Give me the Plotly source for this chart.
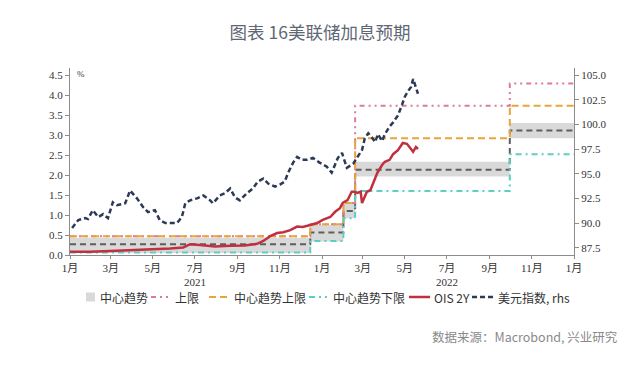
import plotly.graph_objects as go

# ---------------- data ----------------
step_dates = ["2021-01-01", "2021-12-15", "2022-02-01", "2022-02-18", "2022-09-30", "2023-01-01"]
band_low   = [0.05, 0.34, 0.92, 1.96, 2.92, 2.92]
band_high  = [0.43, 0.75, 1.28, 2.33, 3.30, 3.30]
center     = [0.27, 0.56, 1.10, 2.13, 3.11, 3.11]
upper      = [0.47, 0.77, 1.30, 3.73, 4.29, 4.29]
ct_upper   = [0.47, 0.77, 1.30, 2.92, 3.73, 3.73]
ct_lower   = [0.06, 0.35, 0.92, 1.60, 2.52, 2.52]

ois_dates = ["2021-01-01", "2021-01-30", "2021-02-28", "2021-03-29", "2021-04-27", "2021-05-26",
             "2021-06-14", "2021-06-24", "2021-07-08", "2021-07-30", "2021-08-21", "2021-09-11",
             "2021-09-29", "2021-10-08", "2021-10-18", "2021-10-28", "2021-11-06", "2021-11-16",
             "2021-11-26", "2021-12-04", "2021-12-15", "2021-12-25", "2022-01-02", "2022-01-13",
             "2022-01-20", "2022-01-27", "2022-01-31", "2022-02-07", "2022-02-13", "2022-02-17",
             "2022-02-21", "2022-02-26", "2022-02-28", "2022-03-07", "2022-03-12", "2022-03-16",
             "2022-03-22", "2022-03-29", "2022-04-02", "2022-04-09", "2022-04-14", "2022-04-21",
             "2022-04-28", "2022-05-04", "2022-05-08", "2022-05-13", "2022-05-17", "2022-05-20"]
ois_vals = [0.08, 0.08, 0.10, 0.12, 0.13, 0.16,
            0.19, 0.27, 0.25, 0.21, 0.23, 0.24,
            0.28, 0.35, 0.47, 0.55, 0.57, 0.62,
            0.71, 0.70, 0.75, 0.80, 0.88, 0.95,
            1.08, 1.17, 1.30, 1.37, 1.58, 1.58,
            1.55, 1.58, 1.30, 1.58, 1.62, 1.80,
            2.05, 2.25, 2.33, 2.38, 2.52, 2.62,
            2.80, 2.78, 2.70, 2.58, 2.70, 2.65]

dxy_dates = ["2021-01-04", "2021-01-13", "2021-01-23", "2021-01-27", "2021-02-03", "2021-02-11",
             "2021-02-18", "2021-02-25", "2021-03-04", "2021-03-10", "2021-03-16", "2021-03-22",
             "2021-03-29", "2021-04-08", "2021-04-17", "2021-04-24", "2021-05-04", "2021-05-11",
             "2021-05-19", "2021-05-29", "2021-06-05", "2021-06-12", "2021-06-17", "2021-06-24",
             "2021-07-04", "2021-07-13", "2021-07-23", "2021-07-27", "2021-08-06", "2021-08-13",
             "2021-08-21", "2021-08-28", "2021-09-04", "2021-09-14", "2021-09-23", "2021-09-30",
             "2021-10-08", "2021-10-15", "2021-10-25", "2021-11-01", "2021-11-08", "2021-11-13",
             "2021-11-20", "2021-11-26", "2021-12-03", "2021-12-10", "2021-12-19", "2021-12-29",
             "2022-01-08", "2022-01-15", "2022-01-24", "2022-01-30", "2022-02-06", "2022-02-15",
             "2022-02-22", "2022-02-28", "2022-03-04", "2022-03-09", "2022-03-14", "2022-03-19",
             "2022-03-23", "2022-03-29", "2022-04-02", "2022-04-09", "2022-04-14", "2022-04-21",
             "2022-04-27", "2022-05-01", "2022-05-06", "2022-05-10", "2022-05-13", "2022-05-16",
             "2022-05-20"]
dxy_vals = [89.5, 90.3, 90.5, 90.4, 91.3, 90.6,
            90.9, 90.5, 92.1, 91.8, 91.9, 92.0,
            93.3, 92.5, 91.6, 91.1, 91.3, 90.3,
            90.0, 90.0, 90.0, 90.6, 92.0, 92.3,
            92.5, 92.8, 92.3, 92.0, 92.8, 93.0,
            93.5, 92.6, 92.3, 93.0, 93.5, 94.2,
            94.5, 94.0, 93.7, 93.9, 94.2, 95.1,
            96.1, 96.7, 96.4, 96.4, 96.6, 96.1,
            95.7, 95.1, 96.6, 97.1, 95.6, 96.0,
            96.7, 97.4, 98.6, 99.1, 98.7, 98.2,
            99.0, 98.3, 99.0, 99.8, 100.2, 100.9,
            102.0, 102.8, 103.4, 103.8, 104.6, 103.9,
            103.1]

tick_vals = ["2021-01-01", "2021-03-01", "2021-05-01", "2021-07-01", "2021-09-01", "2021-11-01",
             "2022-01-01", "2022-03-01", "2022-05-01", "2022-07-01", "2022-09-01", "2022-11-01",
             "2023-01-01"]
tick_text = ["1月", "3月", "5月", "7月", "9月", "11月", "1月", "3月", "5月", "7月", "9月", "11月", "1月"]
year_labels = ["2021", "2022"]
year_pos = ["2021-07-01", "2022-07-01"]

legend_names = ["中心趋势", "上限", "中心趋势上限", "中心趋势下限", "OIS 2Y", "美元指数, rhs"]

# ---------------- figure ----------------
serif = "Liberation Serif, Noto Sans CJK SC, serif"
cjk = "Noto Sans CJK SC, sans-serif"

C_BAND = "#D9D9D9"
C_CENTER = "#5E5E5E"
C_PINK = "#DE7A98"
C_ORANGE = "#E7A53A"
C_CYAN = "#5CCFC4"
C_RED = "#C0303F"
C_NAVY = "#2D3A55"
D_PINK = "5px,4px,2px,4px,2px,4px"
D_ORANGE = "7px,4px"
D_CYAN = "6px,4px,2px,4px"
D_NAVY = "5px,3px"

fig = go.Figure()

fig.add_trace(go.Scatter(x=step_dates, y=band_low, mode="lines", line=dict(shape="hv", width=0),
                         showlegend=False, hoverinfo="skip"))
fig.add_trace(go.Scatter(x=step_dates, y=band_high, mode="lines", line=dict(shape="hv", width=0),
                         fill="tonexty", fillcolor=C_BAND, name=legend_names[0]))
fig.add_trace(go.Scatter(x=step_dates, y=center, mode="lines",
                         line=dict(shape="hv", width=2, color=C_CENTER, dash="6px,4px"),
                         showlegend=False))
fig.add_trace(go.Scatter(x=step_dates, y=upper, mode="lines", name=legend_names[1],
                         line=dict(shape="hv", width=2, color=C_PINK, dash=D_PINK)))
fig.add_trace(go.Scatter(x=step_dates, y=ct_upper, mode="lines", name=legend_names[2],
                         line=dict(shape="hv", width=2, color=C_ORANGE, dash=D_ORANGE)))
fig.add_trace(go.Scatter(x=step_dates, y=ct_lower, mode="lines", name=legend_names[3],
                         line=dict(shape="hv", width=2, color=C_CYAN, dash=D_CYAN)))
fig.add_trace(go.Scatter(x=ois_dates, y=ois_vals, mode="lines", name=legend_names[4],
                         line=dict(width=2.5, color=C_RED)))
fig.add_trace(go.Scatter(x=dxy_dates, y=dxy_vals, mode="lines", name=legend_names[5], yaxis="y2",
                         line=dict(width=2.5, color=C_NAVY, dash=D_NAVY)))

axis_common = dict(showline=True, linecolor="#8C8C8C", linewidth=1, ticks="outside",
                   ticklen=4, tickcolor="#8C8C8C", showgrid=False, zeroline=False,
                   automargin=False,
                   tickfont=dict(family=serif, size=11, color="#333333"))

# page offset of the figure inside the browser window (default body margin)
OFF = 8
W, H = 640 - OFF, 373 - OFF
L, T = 70 - OFF, 68 - OFF          # plot area left/top in window px: 70 / 68
R = W - (574 - OFF)                 # plot right at 574 in window px
B = H - (255 - OFF)                 # plot bottom at 255 in window px
PW, PH = W - L - R, H - T - B


def px(xpix):
    return (xpix - OFF - L) / PW


def py(ypix):
    return (H - B - (ypix - OFF)) / PH


fig.update_layout(
    width=W, height=H,
    margin=dict(l=L, r=R, t=T, b=B, autoexpand=False),
    paper_bgcolor="white", plot_bgcolor="white",
    showlegend=False,
    title=dict(text="图表 16美联储加息预期", x=0.5 - OFF / 2 / W, xanchor="center",
               y=1 - (33 - OFF) / H, yanchor="middle",
               font=dict(family=cjk, size=17.5, color="#5F6775")),
    xaxis=dict(type="date", range=["2021-01-01", "2023-01-01"], tickvals=tick_vals,
               ticktext=tick_text, **{**axis_common, "ticklen": 3}),
    yaxis=dict(range=[0, 4.675], tickvals=[0, 0.5, 1, 1.5, 2, 2.5, 3, 3.5, 4, 4.5],
               tickformat=".1f", **axis_common),
    yaxis2=dict(range=[86.76, 105.71], overlaying="y", side="right",
                tickvals=[87.5, 90, 92.5, 95, 97.5, 100, 102.5, 105], tickformat=".1f",
                **axis_common),
)

for lab, pos in zip(year_labels, year_pos):
    fig.add_annotation(x=pos, y=py(282), xref="x", yref="paper", text=lab, showarrow=False,
                       font=dict(family=serif, size=11, color="#333333"), yanchor="middle")

fig.add_annotation(x=px(75), y=py(74), xref="paper", yref="paper", text="%", showarrow=False,
                   xanchor="left", yanchor="middle",
                   font=dict(family=serif, size=9, color="#333333"))

fig.add_annotation(x=px(620), y=py(336), xref="paper", yref="paper",
                   text="数据来源：Macrobond, 兴业研究", showarrow=False, xanchor="right",
                   yanchor="middle", font=dict(family=cjk, size=12.5, color="#8A8A8A"))

# ---------- custom legend ----------
LY = 297
leg_font = dict(family=cjk, size=12, color="#333333")
fig.add_shape(type="rect", xref="paper", yref="paper", x0=px(86), x1=px(95),
              y0=py(LY + 4.5), y1=py(LY - 4.5), fillcolor=C_BAND, line=dict(width=0))
items = [
    (None, None, 98, legend_names[0]),
    ((151, 170), (C_PINK, D_PINK, 2), 173, legend_names[1]),
    ((209, 228), (C_ORANGE, D_ORANGE, 2), 232, legend_names[2]),
    ((309, 327), (C_CYAN, D_CYAN, 2), 331, legend_names[3]),
    ((409, 430), (C_RED, "solid", 2.5), 432, legend_names[4]),
    ((472, 493), (C_NAVY, D_NAVY, 2.5), 496, legend_names[5]),
]
for seg, sty, tx, name in items:
    if seg is not None:
        fig.add_shape(type="line", xref="paper", yref="paper", x0=px(seg[0]), x1=px(seg[1]),
                      y0=py(LY), y1=py(LY),
                      line=dict(color=sty[0], dash=sty[1], width=sty[2]))
    fig.add_annotation(x=px(tx), y=py(LY), xref="paper", yref="paper", text=name,
                       showarrow=False, xanchor="left", yanchor="middle", font=leg_font)

fig.write_html("out.html")
